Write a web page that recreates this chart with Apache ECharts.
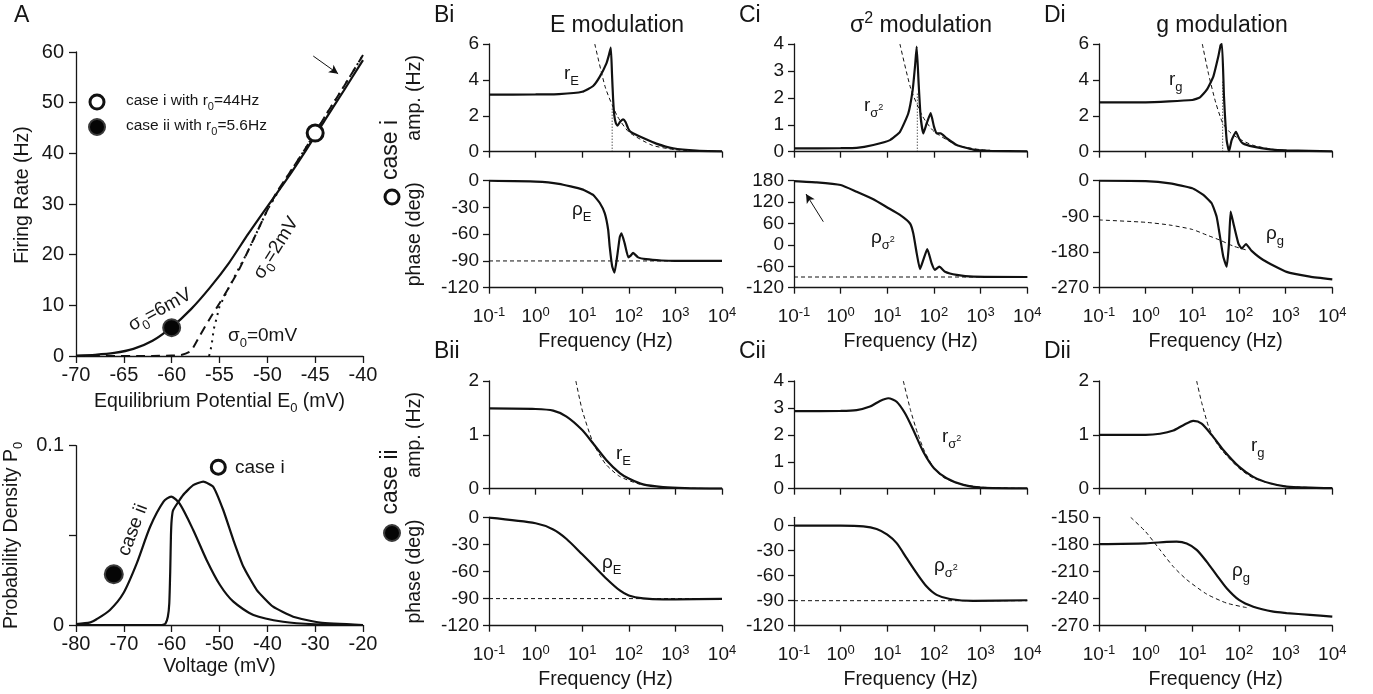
<!DOCTYPE html>
<html><head><meta charset="utf-8">
<script src="https://cdn.jsdelivr.net/npm/echarts@6/dist/echarts.min.js"></script>
<style>html,body{margin:0;padding:0;background:#fff}#c{width:1373px;height:694px}</style>
</head><body><div id="c"></div>
<script>
// ================= DATA =================
// Panel A top: firing rate vs equilibrium potential
const aE6 = [-70,-68,-66,-64,-62,-60,-58,-56,-54,-52,-50,-48,-46,-44,-42,-40];
const aR6 = [0.1,0.25,0.6,1.4,3.0,5.7,9.2,13.5,18.4,24.1,29.5,34.8,40.5,46.5,52.4,58.4];
const aE2 = [-70,-62,-60,-59,-58,-57,-56,-55,-54,-53,-52,-51,-50,-49,-48,-46,-44,-42,-40];
const aR2 = [0,0.02,0.1,0.2,1.0,4.2,7.4,10.4,13.6,16.9,20.8,24.8,28.8,32.4,35.2,41.0,47.2,53.2,59.4];
const aE0 = [-56.1,-56,-55.8,-55.6,-55.3,-55,-54,-52,-50,-48,-46,-44,-42,-40];
const aR0 = [0,0.5,2.5,5.3,7.5,9.8,13.6,20.8,28.8,35.2,41,47.2,53.2,59.4];
const aCaseI = [-45, 44];
const aCaseII = [-60, 5.6];
// Panel A bottom: probability density
const pV2 = [-80,-77,-75.7,-72.9,-70.1,-67.3,-64.5,-61.7,-60.1,-58.3,-55.5,-52.7,-49.9,-47.1,-42.9,-36.7,-30,-20];
const pP2 = [0.0005,0.0015,0.0032,0.0084,0.0177,0.0344,0.0548,0.0688,0.0716,0.0675,0.053,0.0363,0.0223,0.013,0.0056,0.0018,0.0004,0];
const pV1 = [-80,-62,-61.3,-60.8,-60.5,-60.3,-60.15,-60.0,-59.7,-57.6,-55.5,-53.4,-51.3,-49.2,-47.1,-45,-42.2,-38.8,-34.6,-29,-20];
const pP1 = [0,0,0.0008,0.0046,0.012,0.03,0.05,0.0586,0.064,0.0725,0.078,0.08,0.0771,0.064,0.0474,0.0325,0.0195,0.0102,0.0046,0.0013,0];
const pMarkI = [-50.25, 0.088];
const pMarkII = [-72.1, 0.0283];

// Frequency panels (log10 of frequency in Hz, value)
const freqExp = [-1, 0, 1, 2, 3, 4];
// Bi
const biAmpLf = [-1,0,0.5,1.0,1.235,1.378,1.52,1.57,1.614,1.64,1.664,1.69,1.721,1.757,1.81,1.878,1.93,1.986,2.03,2.09,2.31,2.59,2.95,3.45,4];
const biAmp   = [3.18,3.19,3.21,3.34,3.66,4.18,4.92,5.35,5.8,4.3,2.9,2.0,1.6,1.45,1.65,1.8,1.65,1.3,1.12,1.03,0.76,0.45,0.19,0.06,0.02];
const biAsyLf = [1.27,1.5,1.75,2.0,2.5,3,3.5,4];
const biAsy   = [6,3.55,2.0,1.1,0.36,0.11,0.035,0.011];
const biR0Lf = 1.643, biR0Top = 2.4;
const biPhLf = [-1,0,0.5,1.0,1.235,1.378,1.485,1.557,1.59,1.643,1.693,1.75,1.807,1.843,1.91,1.99,2.04,2.093,2.2,2.37,2.7,3,4];
const biPh   = [0,-1,-3.5,-9.7,-16,-25,-36.6,-55,-74,-96,-103,-85,-63,-59,-70,-86,-84,-81,-86,-88,-89.5,-90,-90];
// Ci
const ciAmpLf = [-1,0,0.343,0.70,1.057,1.271,1.45,1.543,1.593,1.629,1.671,1.714,1.771,1.843,1.929,2.0,2.057,2.143,2.271,2.486,2.843,3.2,4];
const ciAmp   = [0.12,0.13,0.14,0.25,0.43,0.74,1.43,2.29,3.16,3.9,2.54,1.3,0.68,1.05,1.43,0.93,0.68,0.68,0.5,0.25,0.08,0.03,0.01];
const ciAsyLf = [1.27,1.5,1.75,2.0,2.5,3,3.5,4];
const ciAsy   = [4,2.36,1.33,0.75,0.24,0.075,0.024,0.0075];
const ciR0Lf = 1.643, ciR0Top = 2.2;
const ciPhLf = [-1,-0.514,0,0.343,0.70,1.0,1.271,1.486,1.557,1.629,1.7,1.771,1.857,1.95,2.021,2.114,2.236,2.486,2.843,4];
const ciPh   = [179,175.5,168,149,128,105,84,60,32,-23,-68,-42,-11.5,-52,-70,-61,-75,-84,-89,-90];
// Di
const diAmpLf = [-1,0,1.0,1.164,1.307,1.45,1.557,1.607,1.636,1.679,1.736,1.786,1.843,1.936,2.0,2.079,2.307,2.664,3.021,4];
const diAmp   = [2.75,2.75,2.88,3.03,3.44,4.18,5.3,5.94,6.0,3.06,0.65,0.02,0.65,1.11,0.75,0.47,0.28,0.13,0.07,0.02];
const diAsyLf = [1.214,1.35,1.5,1.65,1.8,2.0,2.3,2.7,3.0,3.5,4];
const diAsy   = [6,4.3,2.75,1.6,1.1,0.72,0.36,0.14,0.07,0.022,0.007];
const diR0Lf = 1.65, diR0Top = 4;
const diPhLf = [-1,0,0.521,1.0,1.236,1.414,1.521,1.593,1.664,1.736,1.786,1.821,1.879,1.986,2.057,2.15,2.271,2.521,3.021,3.521,4];
const diPh   = [0,-1,-6.7,-19,-36,-57,-91,-141,-192,-217,-158,-78,-107,-158,-171,-160,-177,-200,-230,-242,-249];
const diPhAsyLf = [-1,0,0.521,1.0,1.307,1.593,1.879,2.164];
const diPhAsy   = [-99,-105,-112,-123,-137,-150,-165,-175];
// Bii
const biiAmpLf = [-1,0,0.378,0.664,1.0,1.235,1.521,1.807,2.0,2.307,2.736,3.2,4];
const biiAmp   = [1.49,1.48,1.45,1.34,1.09,0.84,0.53,0.29,0.19,0.08,0.03,0.01,0];
const biiAsyLf = [0.864,1.0,1.235,1.5,1.8,2.2,2.7,3.2,4];
const biiAsy   = [2,1.46,0.85,0.46,0.23,0.092,0.029,0.0092,0.0015];
const biiPhLf = [-1,0,0.378,0.664,1.0,1.235,1.521,1.807,2.0,2.307,2.736,3.0,4];
const biiPh   = [-0.4,-6.6,-13.5,-24,-41,-53,-68,-81,-86.5,-89.7,-90.8,-90.8,-90.2];
// Cii
const ciiAmpLf = [-1,0,0.343,0.629,0.843,1.021,1.2,1.379,1.557,1.771,2.0,2.271,2.629,3.0,4];
const ciiAmp   = [2.88,2.89,2.92,3.05,3.26,3.36,3.23,2.8,2.18,1.37,0.76,0.39,0.14,0.04,0.01];
const ciiAsyLf = [1.343,1.5,1.65,1.8,2.0,2.2,2.5,3,4];
const ciiAsy   = [4,2.9,2.05,1.38,0.76,0.42,0.2,0.06,0.006];
const ciiPhLf = [-1,0,0.486,0.771,1.0,1.2,1.414,1.629,1.843,2.057,2.343,2.843,4];
const ciiPh   = [0,0,-0.8,-4,-10.8,-21,-39,-57,-73,-83,-88,-90.3,-89.5];
// Dii
const diiAmpLf = [-1,0,0.307,0.593,0.807,1.021,1.2,1.414,1.664,2.0,2.307,2.664,3.021,4];
const diiAmp   = [1.0,1.0,1.02,1.08,1.18,1.26,1.21,1.0,0.72,0.41,0.22,0.1,0.04,0.01];
const diiAsyLf = [1.093,1.2,1.35,1.5,1.664,2.0,2.3,2.7,3,4];
const diiAsy   = [2,1.6,1.15,0.88,0.68,0.38,0.2,0.09,0.045,0.005];
const diiPhLf = [-1,0,0.45,0.664,0.879,1.093,1.307,1.521,1.736,2.0,2.307,2.736,3.021,3.521,4];
const diiPh   = [-179.6,-178.8,-177.3,-177,-179,-186,-199,-214,-228.6,-241.5,-249,-254.5,-256,-258,-260];
const diiPhAsyLf = [-0.321,0,0.307,0.593,0.879,1.307,1.736,2.164];
const diiPhAsy   = [-150,-166,-186,-204.7,-219,-235,-245,-250];
const phaseRef90 = -90;

// ================= LAYOUT / STYLE =================
const FONT = '"Liberation Sans", Arial, Helvetica, sans-serif';
const INK = '#161616';
const TICK = 19, TICKA = 20, NAME = 19.5;
const pairs = (xs, ys) => xs.map((x, i) => [x, ys[i]]);
const lpairs = (lf, ys) => lf.map((l, i) => [Math.pow(10, l), ys[i]]);

const colLeft = [489, 794, 1099], colRight = [722, 1027.3, 1332.3];
const rowTop = [44, 180.7, 381, 517.3], rowBot = [151.7, 287.7, 488.7, 625.7];
const gi = (c, r) => 2 + c * 4 + r;

const grids = [
  {left: 76, top: 52, width: 287, height: 304},
  {left: 76, top: 445.7, width: 287, height: 179.3}
];
for (let c = 0; c < 3; c++) for (let r = 0; r < 4; r++)
  grids.push({left: colLeft[c], top: rowTop[r], width: colRight[c] - colLeft[c], height: rowBot[r] - rowTop[r]});
grids.forEach(g => { g.outerBoundsMode = 'none'; g.containLabel = false; });

const axLine = {show: true, onZero: false, lineStyle: {color: INK, width: 1.3}};
const axTick = (len) => ({show: true, length: len, inside: false, lineStyle: {color: INK, width: 1.3}});
const lab = (sz) => ({color: INK, fontSize: sz, fontFamily: FONT});
const nameStyle = {color: INK, fontSize: NAME, fontFamily: FONT,
  rich: {s: {fontSize: 13, fontFamily: FONT, color: INK, padding: [13, 0, 0, 0]}}};

const xAxes = [], yAxes = [];
xAxes.push({type: 'value', gridIndex: 0, min: -70, max: -40, interval: 5, axisLine: axLine, axisTick: axTick(7),
  axisLabel: {...lab(TICKA), margin: 9}, splitLine: {show: false},
  name: 'Equilibrium Potential E{s|0} (mV)', nameLocation: 'middle', nameGap: 33, nameTextStyle: nameStyle});
yAxes.push({type: 'value', gridIndex: 0, min: 0, max: 60, interval: 10, axisLine: axLine, axisTick: axTick(7),
  axisLabel: {...lab(TICKA), margin: 12}, splitLine: {show: false},
  name: 'Firing Rate (Hz)', nameLocation: 'middle', nameGap: 43, nameTextStyle: {...nameStyle, padding: [0, 0, 0, 18]}});
xAxes.push({type: 'value', gridIndex: 1, min: -80, max: -20, interval: 10, axisLine: axLine, axisTick: axTick(7),
  axisLabel: {...lab(TICKA), margin: 9}, splitLine: {show: false},
  name: 'Voltage (mV)', nameLocation: 'middle', nameGap: 32, nameTextStyle: nameStyle});
yAxes.push({type: 'value', gridIndex: 1, min: 0, max: 0.1, interval: 0.05, axisLine: axLine, axisTick: axTick(7),
  axisLabel: {...lab(TICKA), margin: 12, formatter: v => (Math.abs(v) < 1e-9 ? '0' : (Math.abs(v - 0.1) < 1e-9 ? '0.1' : ''))},
  splitLine: {show: false},
  name: 'Probability Density P{s|0}', nameLocation: 'middle', nameGap: 51, nameTextStyle: nameStyle});

const yCfg = [
  [{min: 0, max: 6, interval: 2}, {min: -120, max: 0, interval: 30}, {min: 0, max: 2, interval: 1}, {min: -120, max: 0, interval: 30}],
  [{min: 0, max: 4, interval: 1}, {min: -120, max: 180, interval: 60}, {min: 0, max: 4, interval: 1}, {min: -120, max: 10, custom: [-120, -90, -60, -30, 0]}],
  [{min: 0, max: 6, interval: 2}, {min: -270, max: 0, interval: 90}, {min: 0, max: 2, interval: 1}, {min: -270, max: -150, interval: 30}]
];
const freqLabel = v => '{b|10}{s|' + Math.round(Math.log10(v)) + '}';
for (let c = 0; c < 3; c++) for (let r = 0; r < 4; r++) {
  const g = gi(c, r);
  const isPhase = (r % 2 === 1);
  xAxes.push({type: 'log', logBase: 10, gridIndex: g, min: 0.1, max: 10000, axisLine: axLine, axisTick: axTick(6),
    minorTick: {show: false}, splitLine: {show: false},
    axisLabel: isPhase ? {show: true, interval: 0, margin: 18, formatter: freqLabel, color: INK, fontFamily: FONT, fontSize: TICK,
      rich: {b: {fontSize: TICK, fontFamily: FONT, color: INK}, s: {fontSize: 13, fontFamily: FONT, color: INK, padding: [0, 0, 10, 0]}}} : {show: false},
    name: isPhase ? 'Frequency (Hz)' : '', nameLocation: 'middle', nameGap: 44, nameTextStyle: nameStyle});
  const yc = yCfg[c][r];
  const y = {type: 'value', gridIndex: g, min: yc.min, max: yc.max, axisLine: axLine, axisTick: axTick(6),
    axisLabel: {...lab(TICK), margin: 10}, splitLine: {show: false}};
  if (yc.interval) y.interval = yc.interval;
  if (yc.custom) { y.axisTick.customValues = yc.custom; y.axisLabel.customValues = yc.custom; }
  if (c === 0) {
    y.name = isPhase ? 'phase (deg)' : 'amp. (Hz)';
    y.nameLocation = 'middle'; y.nameGap = 64; y.nameTextStyle = nameStyle;
  }
  yAxes.push(y);
}

const LS = {
  solid: {width: 2.2, type: 'solid'},
  dash: {width: 1, type: [4, 3]},
  dashThick: {width: 2, type: [9, 6]},
  dot: {width: 1, type: [1, 2]},
  dotThick: {width: 2, type: [2, 5]}
};
function line(g, data, kind, extra) {
  return Object.assign({type: 'line', xAxisIndex: g, yAxisIndex: g, data, symbol: 'none', silent: true,
    smooth: kind === 'solid' ? 0.25 : 0.2, lineStyle: {color: '#111', width: LS[kind].width, type: LS[kind].type},
    z: kind === 'solid' ? 3 : 2}, extra || {});
}
const arrowLine = (from, to) => ({silent: true, symbol: ['none', 'arrow'], symbolSize: [7, 9],
  lineStyle: {color: '#111', width: 1, type: 'solid'}, label: {show: false}, animation: false,
  data: [[{coord: from}, {coord: to}]]});
const openMark = (g, pt, size) => ({type: 'scatter', xAxisIndex: g, yAxisIndex: g, data: [pt], symbol: 'circle', symbolSize: size,
  itemStyle: {color: '#fff', borderColor: '#111', borderWidth: 3, opacity: 1}, z: 5, silent: true});
const fillMark = (g, pt, size) => ({type: 'scatter', xAxisIndex: g, yAxisIndex: g, data: [pt], symbol: 'circle', symbolSize: size,
  itemStyle: {color: '#050505', borderColor: '#3a3a3a', borderWidth: 2, opacity: 1}, z: 5, silent: true});

const series = [];
// A top
series.push(line(0, pairs(aE0, aR0), 'dotThick', {smooth: false}));
series.push(line(0, pairs(aE2, aR2), 'dashThick', {smooth: 0.2}));
series.push(line(0, pairs(aE6, aR6), 'solid', {markLine: arrowLine([-45.2, 59.2], [-42.6, 55.7])}));
series.push(openMark(0, aCaseI, 16));
series.push(fillMark(0, aCaseII, 17));
// A bottom
series.push(line(1, pairs(pV2, pP2), 'solid'));
series.push(line(1, pairs(pV1, pP1), 'solid', {smooth: 0.15}));
series.push(openMark(1, pMarkI, 14));
series.push(fillMark(1, pMarkII, 18));

const vline = (g, lf, top) => line(g, [[Math.pow(10, lf), 0], [Math.pow(10, lf), top]], 'dot', {smooth: false});
const hline = (g, v) => line(g, [[0.1, v], [10000, v]], 'dash', {smooth: false});
// Bi
series.push(line(gi(0,0), lpairs(biAsyLf, biAsy), 'dash'));
series.push(vline(gi(0,0), biR0Lf, biR0Top));
series.push(line(gi(0,0), lpairs(biAmpLf, biAmp), 'solid', {smooth: 0.15}));
series.push(hline(gi(0,1), phaseRef90));
series.push(line(gi(0,1), lpairs(biPhLf, biPh), 'solid', {smooth: 0.15}));
// Bii
series.push(line(gi(0,2), lpairs(biiAsyLf, biiAsy), 'dash'));
series.push(line(gi(0,2), lpairs(biiAmpLf, biiAmp), 'solid'));
series.push(hline(gi(0,3), phaseRef90));
series.push(line(gi(0,3), lpairs(biiPhLf, biiPh), 'solid'));
// Ci
series.push(line(gi(1,0), lpairs(ciAsyLf, ciAsy), 'dash'));
series.push(vline(gi(1,0), ciR0Lf, ciR0Top));
series.push(line(gi(1,0), lpairs(ciAmpLf, ciAmp), 'solid', {smooth: 0.15}));
series.push(hline(gi(1,1), phaseRef90));
series.push(line(gi(1,1), lpairs(ciPhLf, ciPh), 'solid', {smooth: 0.15, markLine: arrowLine([0.425, 65], [0.181, 142.7])}));
// Cii
series.push(line(gi(1,2), lpairs(ciiAsyLf, ciiAsy), 'dash'));
series.push(line(gi(1,2), lpairs(ciiAmpLf, ciiAmp), 'solid'));
series.push(hline(gi(1,3), phaseRef90));
series.push(line(gi(1,3), lpairs(ciiPhLf, ciiPh), 'solid'));
// Di
series.push(line(gi(2,0), lpairs(diAsyLf, diAsy), 'dash'));
series.push(vline(gi(2,0), diR0Lf, diR0Top));
series.push(line(gi(2,0), lpairs(diAmpLf, diAmp), 'solid', {smooth: 0.15}));
series.push(line(gi(2,1), lpairs(diPhAsyLf, diPhAsy), 'dash'));
series.push(line(gi(2,1), lpairs(diPhLf, diPh), 'solid', {smooth: 0.15}));
// Dii
series.push(line(gi(2,2), lpairs(diiAsyLf, diiAsy), 'dash'));
series.push(line(gi(2,2), lpairs(diiAmpLf, diiAmp), 'solid'));
series.push(line(gi(2,3), lpairs(diiPhAsyLf, diiPhAsy), 'dash'));
series.push(line(gi(2,3), lpairs(diiPhLf, diiPh), 'solid'));

// ================= TEXT ANNOTATIONS =================
const R = (sz) => ({
  m: {fontSize: sz, fontFamily: FONT, fill: INK},
  s: {fontSize: Math.round(sz * 0.7), fontFamily: FONT, fill: INK, padding: [Math.round(sz * 0.75), 0, 0, 0]},
  ss: {fontSize: 9, fontFamily: FONT, fill: INK, padding: [3, 0, 0, 0]},
  u: {fontSize: Math.round(sz * 0.68), fontFamily: FONT, fill: INK, padding: [0, 0, Math.round(sz * 0.6), 0]},
  l: {fontSize: 15.5, fontFamily: FONT, fill: INK},
  ls: {fontSize: 11, fontFamily: FONT, fill: INK, padding: [11, 0, 0, 0]}
});
function txt(x, y, text, o) {
  o = o || {};
  const sz = o.size || 19;
  return {type: 'text', x, y, rotation: o.rot || 0, silent: true, z: 100,
    style: {text, x: 0, y: 0, fill: INK, fontSize: sz, fontFamily: FONT,
      align: o.align || 'left', verticalAlign: o.va || 'middle', textAlign: o.align || 'left', textVerticalAlign: o.va || 'middle',
      rich: R(sz)}};
}
const D = Math.PI / 180;
const graphics = [
  txt(14, 16, 'A', {size: 23}),
  txt(434, 16, 'Bi', {size: 23}),
  txt(617, 26, 'E modulation', {size: 23, align: 'center'}),
  txt(739, 16, 'Ci', {size: 23}),
  txt(921, 26, '{m|σ}{u|2}{m| modulation}', {size: 23, align: 'center'}),
  txt(1044, 16, 'Di', {size: 23}),
  txt(1222, 26, 'g modulation', {size: 23, align: 'center'}),
  txt(434, 352, 'Bii', {size: 23}),
  txt(739, 352, 'Cii', {size: 23}),
  txt(1044, 352, 'Dii', {size: 23}),
  // legend in A
  txt(126, 101, '{l|case i with r}{ls|0}{l|=44Hz}', {size: 15.5}),
  txt(126, 126, '{l|case ii with r}{ls|0}{l|=5.6Hz}', {size: 15.5}),
  // curve labels in A
  txt(160, 310, '{m|σ}{s|0}{m|=6mV}', {align: 'center', rot: 29 * D}),
  txt(276, 248, '{m|σ}{s|0}{m|=2mV}', {align: 'center', rot: 58 * D}),
  txt(228, 336, '{m|σ}{s|0}{m|=0mV}'),
  txt(235, 468, 'case i', {size: 19}),
  txt(133, 530, 'case ii', {size: 19, align: 'center', rot: 69 * D}),
  // row labels
  txt(391, 150, 'case i', {size: 23, align: 'center', rot: 90 * D}),
  txt(391, 482, 'case ii', {size: 23, align: 'center', rot: 90 * D}),
  // curve labels, frequency panels
  txt(564, 74, '{m|r}{s|E}'),
  txt(572, 210, '{m|ρ}{s|E}'),
  txt(864, 106, '{m|r}{s|σ}{ss|2}'),
  txt(871, 238, '{m|ρ}{s|σ}{ss|2}'),
  txt(1169, 80, '{m|r}{s|g}'),
  txt(1266, 234, '{m|ρ}{s|g}'),
  txt(616, 454, '{m|r}{s|E}'),
  txt(602, 563, '{m|ρ}{s|E}'),
  txt(942, 437, '{m|r}{s|σ}{ss|2}'),
  txt(934, 566, '{m|ρ}{s|σ}{ss|2}'),
  txt(1251, 446, '{m|r}{s|g}'),
  txt(1232, 571, '{m|ρ}{s|g}'),
  // markers for legend and row labels
  {type: 'circle', shape: {cx: 97, cy: 102, r: 7}, style: {fill: '#fff', stroke: '#111', lineWidth: 3}, silent: true, z: 100},
  {type: 'circle', shape: {cx: 97, cy: 127, r: 8}, style: {fill: '#050505', stroke: '#3a3a3a', lineWidth: 2}, silent: true, z: 100},
  {type: 'circle', shape: {cx: 392, cy: 197, r: 7}, style: {fill: '#fff', stroke: '#111', lineWidth: 3}, silent: true, z: 100},
  {type: 'circle', shape: {cx: 392, cy: 533, r: 8}, style: {fill: '#050505', stroke: '#3a3a3a', lineWidth: 2}, silent: true, z: 100}
];

const chart = echarts.init(document.getElementById('c'), null, {renderer: 'canvas'});
chart.setOption({
  animation: false,
  backgroundColor: '#fff',
  textStyle: {fontFamily: FONT, color: INK},
  grid: grids,
  xAxis: xAxes,
  yAxis: yAxes,
  series,
  graphic: {elements: graphics}
});
</script></body></html>
